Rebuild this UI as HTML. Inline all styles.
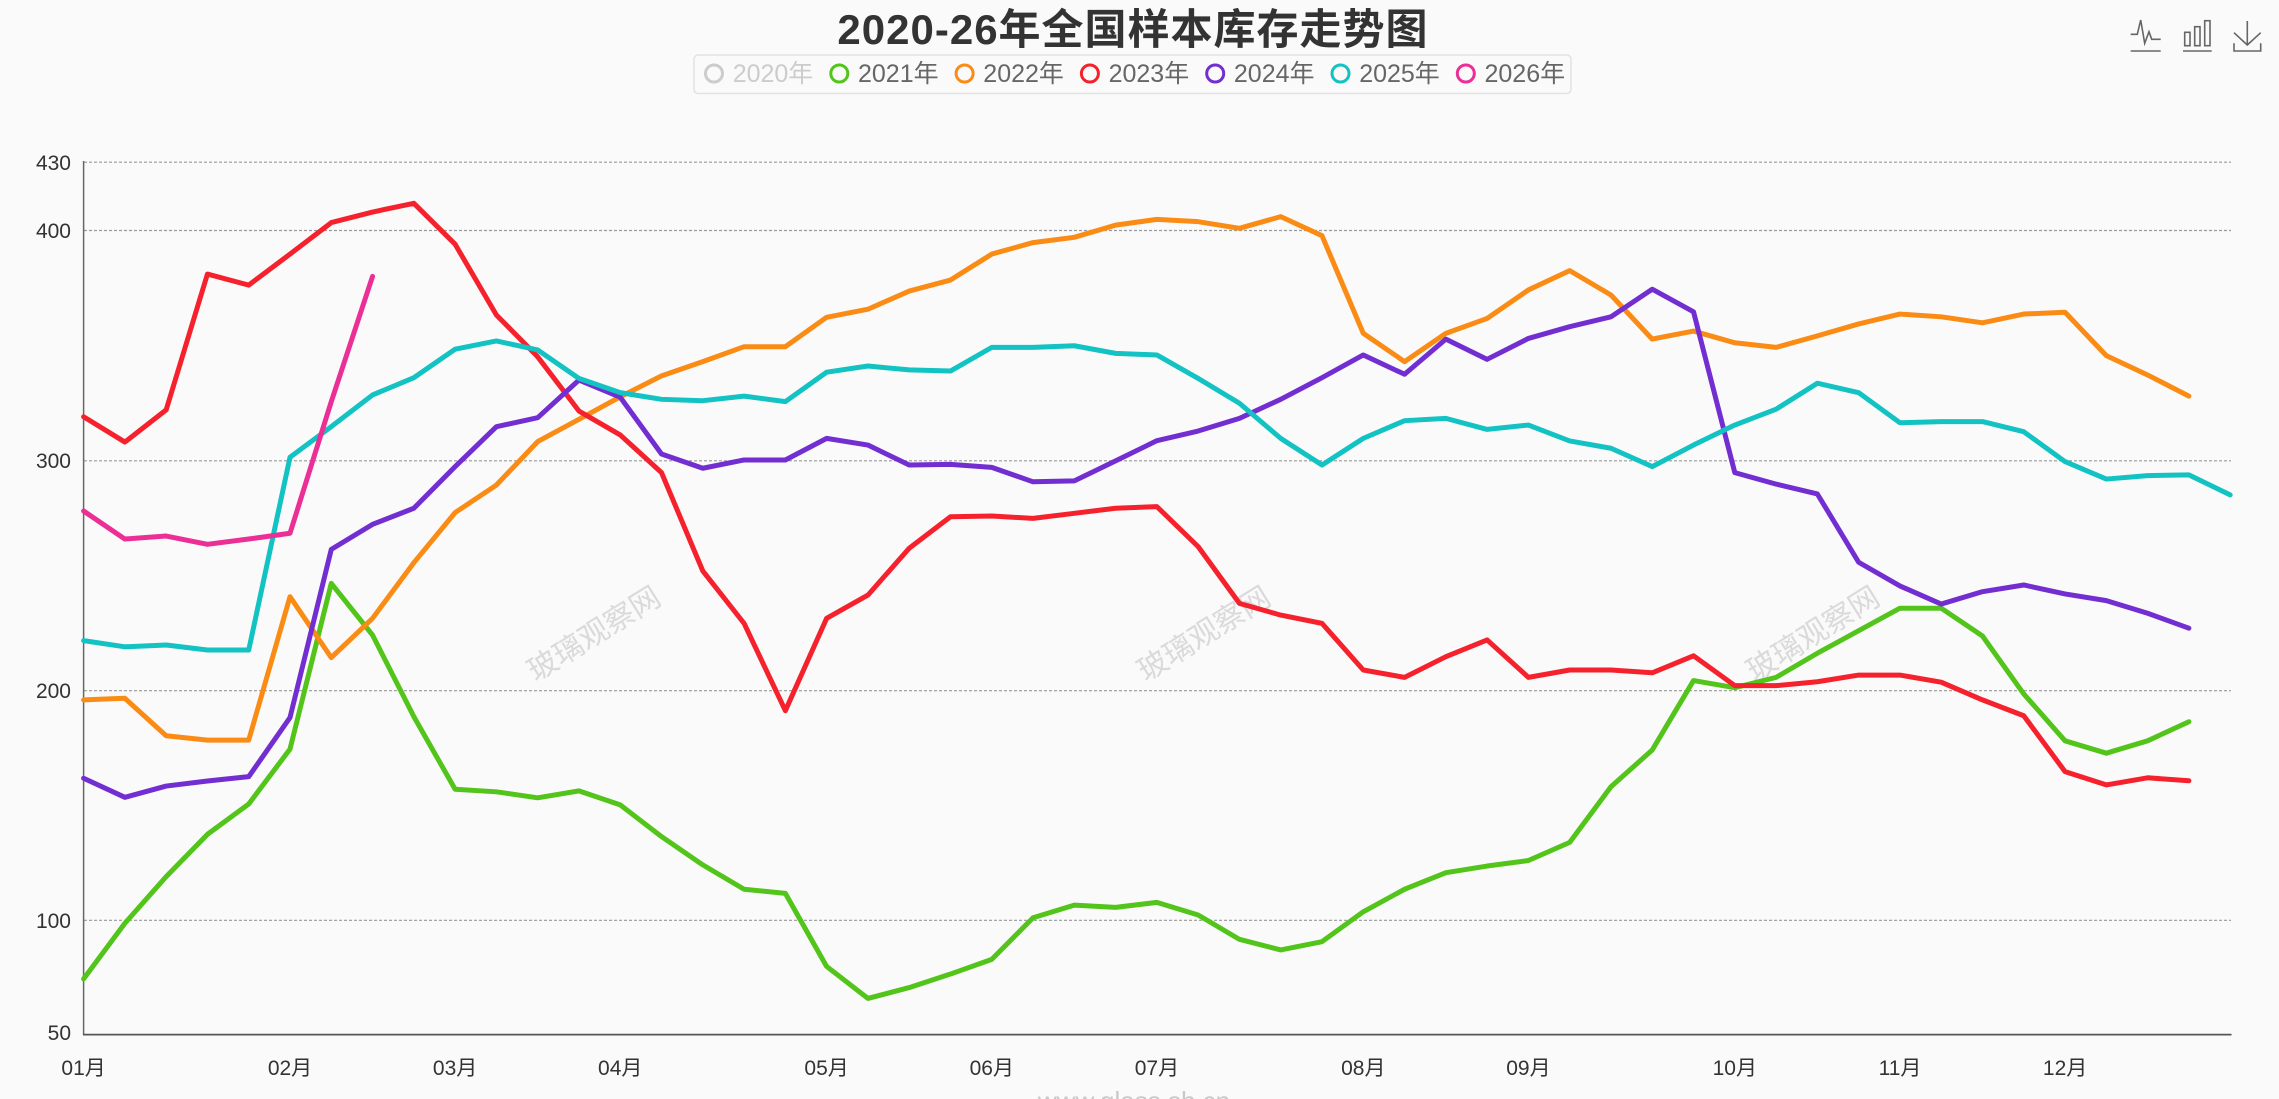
<!DOCTYPE html>
<html>
<head>
<meta charset="utf-8">
<style>
  html,body{margin:0;padding:0;background:#fafafa;}
  svg{display:block;}
  text{font-family:"Liberation Sans","Noto Sans CJK SC",sans-serif;}
</style>
</head>
<body>
<svg width="2279" height="1099" viewBox="0 0 2279 1099" xmlns="http://www.w3.org/2000/svg">
  <rect x="0" y="0" width="2279" height="1099" fill="#fafafa"/>

  <!-- Title -->
  <text x="1133" y="44" text-anchor="middle" font-size="42" font-weight="bold" fill="#333" letter-spacing="1">2020-26年全国样本库存走势图</text>

  <!-- Legend -->
  <rect x="694" y="55" width="877" height="38.5" rx="4" ry="4" fill="none" stroke="#e2e2e2" stroke-width="1.5"/>
  <g font-size="25" stroke-width="3" fill="none">
    <circle cx="714" cy="73.5" r="8.5" stroke="#cccccc"/>
    <circle cx="839.3" cy="73.5" r="8.5" stroke="#52c41a"/>
    <circle cx="964.6" cy="73.5" r="8.5" stroke="#fa8c16"/>
    <circle cx="1089.9" cy="73.5" r="8.5" stroke="#f5222d"/>
    <circle cx="1215.2" cy="73.5" r="8.5" stroke="#722ed1"/>
    <circle cx="1340.5" cy="73.5" r="8.5" stroke="#13c2c2"/>
    <circle cx="1465.8" cy="73.5" r="8.5" stroke="#eb2f96"/>
  </g>
  <g font-size="25">
    <text x="732.7" y="82" fill="#cccccc">2020年</text>
    <text x="858" y="82" fill="#666">2021年</text>
    <text x="983.3" y="82" fill="#666">2022年</text>
    <text x="1108.6" y="82" fill="#666">2023年</text>
    <text x="1233.9" y="82" fill="#666">2024年</text>
    <text x="1359.2" y="82" fill="#666">2025年</text>
    <text x="1484.5" y="82" fill="#666">2026年</text>
  </g>

  <!-- Toolbox icons -->
  <g fill="none" stroke="#666" stroke-width="1.6">
    <polyline points="2130.7,34.3 2137.3,34.3 2140.7,20 2144.7,43.3 2149,31.7 2151.7,39.3 2160.7,39.3"/>
    <line x1="2130.7" y1="51" x2="2160.7" y2="51"/>
    <rect x="2184.7" y="32.3" width="5.3" height="13.4"/>
    <rect x="2194.7" y="26.7" width="5.3" height="19"/>
    <rect x="2204.7" y="20.7" width="5.3" height="25"/>
    <line x1="2183" y1="51" x2="2211.7" y2="51"/>
    <line x1="2247.3" y1="21" x2="2247.3" y2="45"/>
    <polyline points="2234,32.7 2247.3,45 2260.7,32.7"/>
    <polyline points="2234,43.3 2234,51 2260.7,51 2260.7,43.3"/>
  </g>

  <!-- Watermarks -->
  <g font-size="30" fill="#dadada" text-anchor="middle">
    <text x="594" y="644" transform="rotate(-32 594 634)">玻璃观察网</text>
    <text x="1204" y="644" transform="rotate(-32 1204 634)">玻璃观察网</text>
    <text x="1813" y="644" transform="rotate(-32 1813 634)">玻璃观察网</text>
  </g>
  <text x="1134" y="1110" font-size="26" fill="#c8c8c8" text-anchor="middle">www.glass.sh.cn</text>

  <!-- Grid lines -->
  <g stroke="#999" stroke-width="1.2" stroke-dasharray="3 2">
    <line x1="84" y1="162.2" x2="2231" y2="162.2"/>
    <line x1="84" y1="230.5" x2="2231" y2="230.5"/>
    <line x1="84" y1="460.8" x2="2231" y2="460.8"/>
    <line x1="84" y1="690.7" x2="2231" y2="690.7"/>
    <line x1="84" y1="920.3" x2="2231" y2="920.3"/>
  </g>
  <!-- Axes -->
  <line x1="83.6" y1="161" x2="83.6" y2="1035" stroke="#666" stroke-width="1.5"/>
  <line x1="83" y1="1034.6" x2="2231.5" y2="1034.6" stroke="#555" stroke-width="1.8"/>

  <!-- Y labels -->
  <g font-size="21" fill="#333" text-anchor="end">
    <text x="71" y="170">430</text>
    <text x="71" y="238">400</text>
    <text x="71" y="468">300</text>
    <text x="71" y="698">200</text>
    <text x="71" y="928">100</text>
    <text x="71" y="1040">50</text>
  </g>
  <!-- X labels -->
  <g font-size="21" fill="#333" text-anchor="middle">
    <text x="83.6" y="1075">01月</text>
    <text x="290" y="1075">02月</text>
    <text x="455.1" y="1075">03月</text>
    <text x="620.2" y="1075">04月</text>
    <text x="826.6" y="1075">05月</text>
    <text x="991.8" y="1075">06月</text>
    <text x="1156.9" y="1075">07月</text>
    <text x="1363.3" y="1075">08月</text>
    <text x="1528.4" y="1075">09月</text>
    <text x="1734.8" y="1075">10月</text>
    <text x="1900" y="1075">11月</text>
    <text x="2065.1" y="1075">12月</text>
  </g>

  <!-- Series -->
  <g transform="matrix(41.28 0 0 -2.298 83.6 1150.3)" fill="none" stroke-width="5" stroke-linejoin="round" stroke-linecap="round">
    <!-- 2021 -->
    <polyline vector-effect="non-scaling-stroke" stroke="#52c41a" points="0,74.6 1,98.8 2,119.1 3,137.5 4,150.7 5,174.6 6,246.7 7,224.2 8,188.7 9,157.1 10,156 11,153.4 12,156.4 13,150.3 14,136.5 15,124.2 16,113.6 17,111.8 18,80 19,66.1 20,70.8 21,76.7 22,83.1 23,101.2 24,106.7 25,105.7 26,107.9 27,102.4 28,91.8 29,87.2 30,90.8 31,103.8 32,113.6 33,120.8 34,123.7 35,126.1 36,134 37,158.2 38,174.2 39,204.4 40,201.3 41,205.8 42,216.3 43,226.1 44,235.9 45,235.9 46,223.8 47,198.6 48,178.2 49,172.8 50,178.2 51,186.5"/>
    <!-- 2022 -->
    <polyline vector-effect="non-scaling-stroke" stroke="#fa8c16" points="0,196 1,196.7 2,180.4 3,178.5 4,178.5 5,240.9 6,214.4 7,231.5 8,255.7 9,277.5 10,289.5 11,308.4 12,318.1 13,327.9 14,337 15,343.2 16,349.7 17,349.7 18,362.5 19,366 20,373.9 21,378.7 22,390 23,395 24,397.3 25,402.6 26,405.1 27,404.1 28,401.2 29,406.3 30,398 31,355.5 32,343.2 33,355.5 34,362 35,374.4 36,382.8 37,372.2 38,353 39,356.5 40,351.4 41,349.4 42,354.4 43,359.6 44,363.9 45,362.7 46,360.1 47,363.9 48,364.7 49,345.8 50,337.4 51,328.2"/>
    <!-- 2023 -->
    <polyline vector-effect="non-scaling-stroke" stroke="#f5222d" points="0,319.2 1,308.2 2,322.2 3,381.3 4,376.5 5,390 6,403.7 7,408.3 8,412.1 9,394.3 10,363.5 11,345.3 12,321.7 13,311.3 14,294.9 15,252.1 16,229.3 17,191.3 18,231.5 19,241.6 20,262 21,275.7 22,276 23,275 24,277.2 25,279.4 26,280.1 27,262.7 28,238 29,232.9 30,229.3 31,209 32,205.8 33,214.8 34,222.1 35,205.8 36,209 37,209 38,207.8 39,215.2 40,202.2 41,202.2 42,203.9 43,206.8 44,206.8 45,203.7 46,196 47,189.1 48,164.8 49,159 50,162.1 51,160.8"/>
    <!-- 2024 -->
    <polyline vector-effect="non-scaling-stroke" stroke="#722ed1" points="0,161.9 1,153.6 2,158.5 3,160.7 4,162.6 5,188.3 6,261.5 7,272.4 8,279.4 9,297.5 10,314.9 11,318.8 12,335.2 13,327.7 14,303 15,296.8 16,300.4 17,300.4 18,309.8 19,306.9 20,298.2 21,298.5 22,297.2 23,290.9 24,291.3 25,300 26,308.8 27,313 28,318.5 29,326.8 30,336.2 31,346.1 32,337.7 33,353 34,344.2 35,353.3 36,358.4 37,362.7 38,374.7 39,364.9 40,294.9 41,289.9 42,285.6 43,255.9 44,245.6 45,237.7 46,243.1 47,246 48,242.1 49,239.2 50,233.7 51,227.2"/>
    <!-- 2025 -->
    <polyline vector-effect="non-scaling-stroke" stroke="#13c2c2" points="0,221.8 1,219.1 2,219.9 3,217.7 4,217.7 5,301.6 6,314.9 7,328.7 8,336.2 9,348.6 10,352.2 11,348.3 12,335.9 13,329.7 14,326.8 15,326.2 16,328.2 17,325.8 18,338.6 19,341.3 20,339.6 21,339.1 22,349.4 23,349.4 24,350.1 25,346.8 26,346.1 27,335.9 28,325.1 29,309.8 30,298.2 31,309.8 32,317.5 33,318.5 34,313.7 35,315.6 36,308.7 37,305.5 38,297.5 39,306.9 40,315.6 41,322.5 42,333.8 43,329.7 44,316.6 45,317.1 46,317.1 47,312.7 48,299.7 49,292.1 50,293.6 51,293.9 52,285.2"/>
    <!-- 2026 -->
    <polyline vector-effect="non-scaling-stroke" stroke="#eb2f96" points="0,278.2 1,266 2,267.3 3,263.7 4,266 5,268.5 6,325.8 7,380.3"/>
  </g>
</svg>
</body>
</html>
